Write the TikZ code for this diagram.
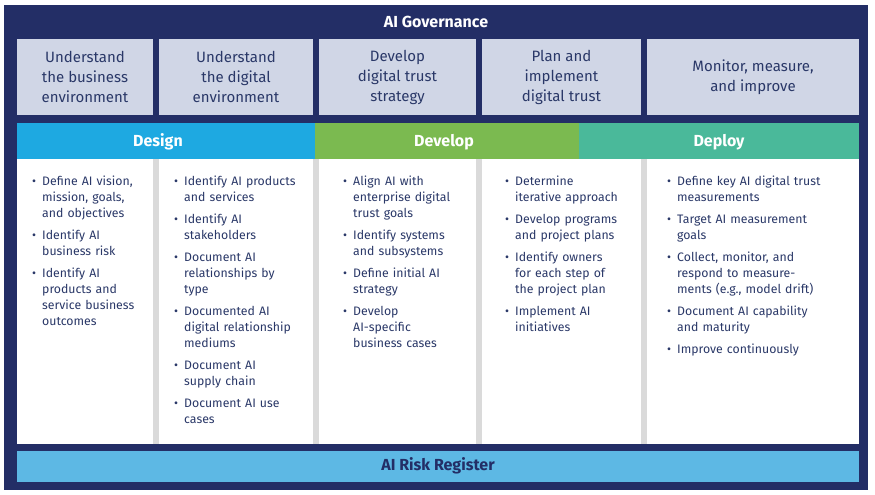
\documentclass[tikz,border=0pt]{standalone}
\usepackage{fontspec}
\setmainfont{Fira Sans}
\usepackage{enumitem}
\definecolor{navy}{HTML}{232E66}
\definecolor{ink}{HTML}{2A3868}
\definecolor{lite}{HTML}{D0D6E6}
\definecolor{cdes}{HTML}{1EA9E1}
\definecolor{cdev}{HTML}{7BBA50}
\definecolor{cdep}{HTML}{4AB99A}
\definecolor{crisk}{HTML}{5DB8E4}
\definecolor{gapgray}{HTML}{DADADA}
\begin{document}
\begin{tikzpicture}[x=1pt,y=-1pt,
  topbox/.style={fill=lite,draw=none,text=ink,align=center,font=\fontsize{15}{20}\selectfont},
  head/.style={text=white,font=\bfseries\fontsize{16}{18}\selectfont},
  col/.style={anchor=north west,inner sep=0pt,text=ink,align=left,font=\fontsize{12.3}{16}\selectfont}]
\useasboundingbox (0,0) rectangle (875,495);
\fill[white] (0,0) rectangle (875,495);
\fill[navy] (4,5) rectangle (868,490);
\node[text=white,font=\bfseries\fontsize{16}{18}\selectfont] (gov) at (436,22) {AI Governance};
% top boxes
\foreach \a/\b/\t [count=\i] in {17/153/{Understand\\the business\\environment},159/313/{Understand\\the digital\\environment},319/476/{Develop\\digital trust\\strategy},482/641/{Plan and\\implement\\digital trust},647/859/{Monitor, measure,\\and improve}}{
  \fill[lite] (\a,39) rectangle (\b,115);
  \node[topbox] (t\i) at ({(\a+\b)/2},77) {\t};
}
% headers
\fill[cdes] (17,123) rectangle (315,159);
\fill[cdev] (315,123) rectangle (579,159);
\fill[cdep] (579,123) rectangle (859,159);
\node[head] (hdes) at (158,142) {Design};
\node[head] (hdev) at (444,142) {Develop};
\node[head] (hdep) at (719,142) {Deploy};
% white area
\fill[gapgray] (17,159) rectangle (859,444);
\foreach \a/\b in {17/153,159/313,319/476,482/641,647/859}{\fill[white] (\a,159) rectangle (\b,444);}
\setlist[itemize]{label=\textbullet,leftmargin=12pt,labelsep=6pt,topsep=0pt,itemsep=6pt,parsep=0pt}
\node[col,text width=200pt] (c1) at (30,169) {\begin{itemize}
\item Define AI vision,\\ mission, goals,\\ and objectives
\item Identify AI\\ business risk
\item Identify AI\\ products and\\ service business\\ outcomes
\end{itemize}};
\node[col,text width=200pt] (c2) at (172,169) {\begin{itemize}
\item Identify AI products\\ and services
\item Identify AI\\ stakeholders
\item Document AI\\ relationships by\\ type
\item Documented AI\\ digital relationship\\ mediums
\item Document AI\\ supply chain
\item Document AI use\\ cases
\end{itemize}};
\node[col,text width=200pt] (c3) at (341,169) {\begin{itemize}
\item Align AI with\\ enterprise digital\\ trust goals
\item Identify systems\\ and subsystems
\item Define initial AI\\ strategy
\item Develop\\ AI-specific\\ business cases
\end{itemize}};
\node[col,text width=200pt] (c4) at (503,169) {\begin{itemize}
\item Determine\\ iterative approach
\item Develop programs\\ and project plans
\item Identify owners\\ for each step of\\ the project plan
\item Implement AI\\ initiatives
\end{itemize}};
\node[col,text width=200pt] (c5) at (665,169) {\begin{itemize}
\item Define key AI digital trust\\ measurements
\item Target AI measurement\\ goals
\item Collect, monitor, and\\ respond to measure-\\ ments (e.g., model drift)
\item Document AI capability\\ and maturity
\item Improve continuously
\end{itemize}};
% risk register
\fill[crisk] (17,451) rectangle (859,482);
\node[text=navy,font=\bfseries\fontsize{16}{18}\selectfont] (risk) at (438,466) {AI Risk Register};
\end{tikzpicture}
\end{document}
